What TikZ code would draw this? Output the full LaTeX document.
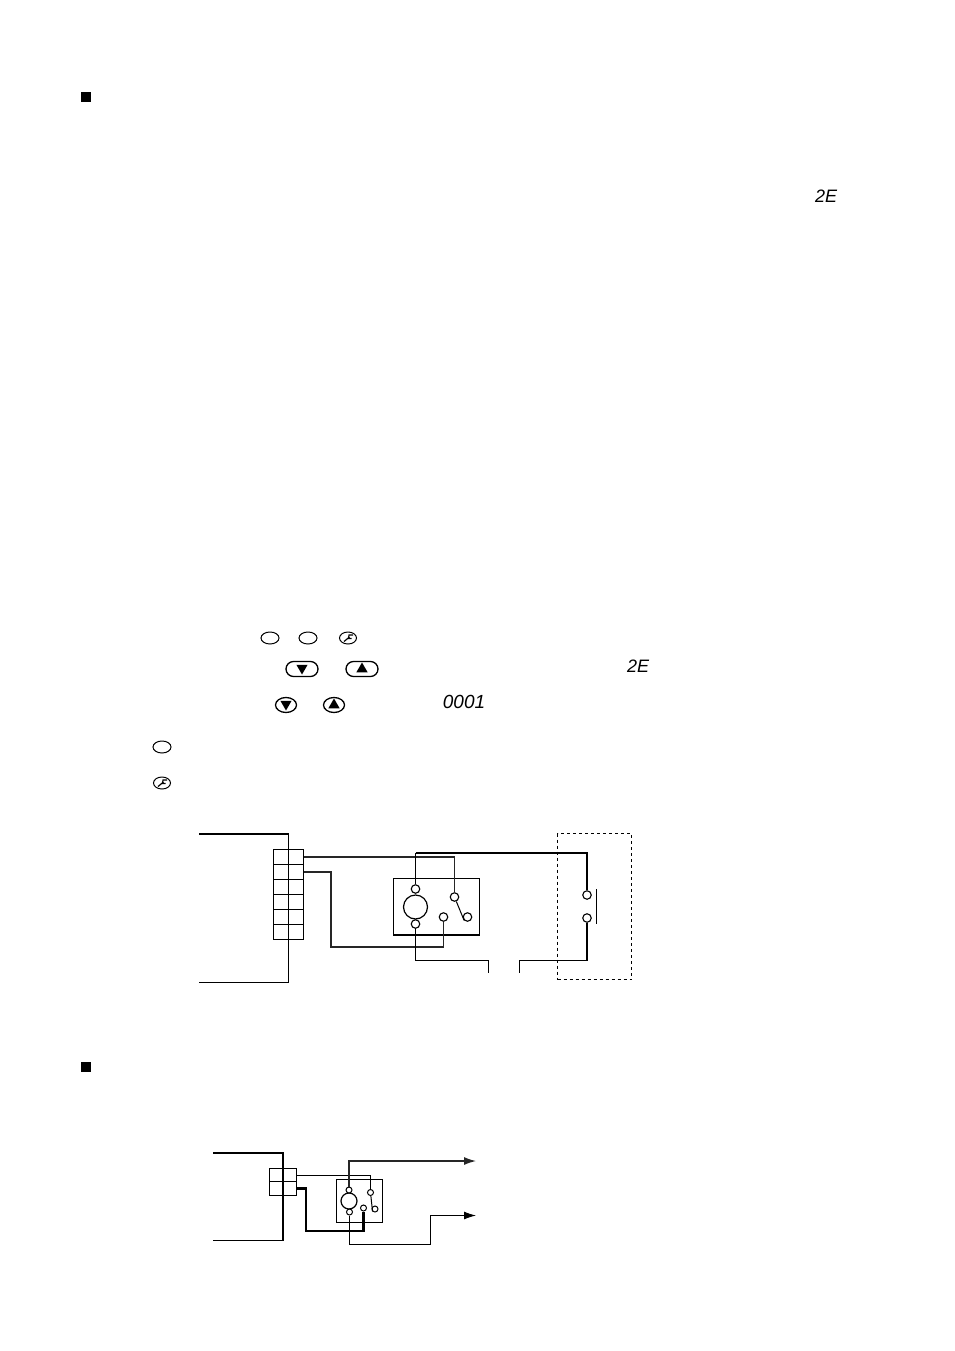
\documentclass[tikz,border=0pt]{standalone}
\usepackage{fontspec}
\newfontfamily\segfont[ItalicFont=Liberation Sans Italic]{Liberation Sans}
\usetikzlibrary{arrows.meta,shapes.geometric,shapes.misc}
\tikzset{
  wire/.style={line width=1pt},
  softwire/.style={line width=1.3pt,black!85},
  heavy/.style={line width=2.2pt},
  contact/.style={circle,draw,fill=white,line width=1.1pt,inner sep=0pt,minimum size=8.5pt},
  smallcontact/.style={circle,draw,fill=white,line width=1pt,inner sep=0pt,minimum size=6pt},
  cell/.style={rectangle,draw,line width=1pt,inner sep=0pt},
  marker/.style={rectangle,fill=black,inner sep=0pt,minimum size=10.5pt},
  oval/.style={ellipse,draw,line width=1pt,inner sep=0pt,minimum width=18pt,minimum height=12pt},
  keybig/.style={rounded rectangle,draw,line width=1.3pt,inner sep=0pt,minimum width=32pt,minimum height=15pt},
  keysmall/.style={ellipse,draw,line width=1.3pt,inner sep=0pt,minimum width=21pt,minimum height=15pt},
  triup/.style={regular polygon,regular polygon sides=3,fill=black,inner sep=0pt,minimum size=13pt},
  tridown/.style={triup,shape border rotate=180},
  seg/.style={inner sep=0pt,font=\segfont\itshape\fontsize{19}{19}\selectfont},
  segcode/.style={inner sep=0pt,font=\segfont\itshape\fontsize{18}{18}\selectfont}
}
\newcommand{\wrenchmark}[1]{%
  \draw[line width=1.2pt] ([shift={(-4,3.5)}]#1.center) -- ([shift={(1.5,-1)}]#1.center);
  \draw[line width=1.1pt] ([shift={(5,-3)}]#1.center) -- ([shift={(1,-3)}]#1.center) -- ([shift={(0.5,0.5)}]#1.center) -- ([shift={(3.5,0.5)}]#1.center);
}
\begin{document}
\begin{tikzpicture}[x=1pt,y=-1pt]
  \useasboundingbox (0,0) rectangle (954,1351);
  \fill[white] (0,0) rectangle (954,1351);

  \node[marker] (mark1) at (86,97) {};
  \node[marker] (mark2) at (86,1067) {};
  \node[segcode] (code1) at (826,196) {2E};
  \node[segcode] (code2) at (638,666) {2E};
  \node[seg] (value) at (464,702) {0001};

  % keys
  \node[oval] (key1) at (270,638) {};
  \node[oval] (key2) at (308,638) {};
  \node[oval] (key3) at (162,747) {};
  \node[oval,minimum width=17pt] (tool1) at (348,638) {};
  \node[oval,minimum width=17pt] (tool2) at (162,783) {};
  \wrenchmark{tool1}
  \wrenchmark{tool2}
  \node[keybig] (down1) at (302,669) {};
  \node[keybig] (up1) at (362,669) {};
  \node[keysmall] (down2) at (286,705) {};
  \node[keysmall] (up2) at (334,705) {};
  \node[tridown] at (302,668) {};
  \node[triup] at (362,669) {};
  \node[tridown] at (286,704) {};
  \node[triup] at (334,705) {};

  % upper circuit
  \coordinate (feed1) at (199,834);
  \coordinate (feed2) at (199,982.5);
  \coordinate (bus1) at (288.5,834);
  \coordinate (bus2) at (288.5,982.5);
  \foreach \r in {1,...,6}
  {
    \node[cell,minimum width=15pt,minimum height=15pt] (a\r) at (281,842+15*\r) {};
    \node[cell,minimum width=15pt,minimum height=15pt] (b\r) at (296,842+15*\r) {};
  }
  \node[cell,line width=1.2pt,minimum width=86pt,minimum height=56.5pt] (relay) at (436.5,906.75) {};
  \node[circle,draw,line width=1.2pt,inner sep=0pt,minimum size=24pt] (coil) at (415.5,907) {};
  \node[contact] (c1) at (415.5,889) {};
  \node[contact] (c2) at (415.5,924) {};
  \node[contact] (c3) at (454.5,897) {};
  \node[contact] (c4) at (467.5,917) {};
  \node[contact] (c5) at (443.5,917) {};
  \node[contact] (s1) at (587,895) {};
  \node[contact] (s2) at (587,918) {};
  \coordinate (bar1) at (596.5,889);
  \coordinate (bar2) at (596.5,924);
  \coordinate (end1) at (488.5,973);
  \coordinate (end2) at (519.5,973);
  \coordinate (m1) at (331,947);
  \coordinate (m4) at (415.5,960.5);
  \coordinate (m5) at (587,960.5);
  \coordinate (m6) at (415.5,853);
  \node[draw,dashed,line width=.9pt,minimum width=74pt,minimum height=146pt,inner sep=0pt] (cover) at (594.5,906.5) {};

  \draw[heavy] (feed1) -- (bus1);
  \draw[wire] (bus1) -- (bus2) -- (feed2);
  \draw[softwire,line width=1.6pt] (b1.east) -| (c3.north);
  \draw[softwire] (b2.east) -| (m1) -| (c5.south);
  \draw[wire] (c3) -- (c4.south west);
  \draw[wire] (c2.south) -- (m4) -| (end1);
  \draw[wire] (bar1) -- (bar2);
  \draw[wire] (c1.north) -- (m6);
  \draw[heavy] (m6) -| (s1.north);
  \draw[heavy] (s2.south) -- (m5);
  \draw[wire] (m5) -| (end2);

  % lower circuit
  \coordinate (feed3) at (213,1153);
  \coordinate (feed4) at (213,1240.5);
  \coordinate (bus3) at (283,1153);
  \coordinate (bus4) at (283,1240.5);
  \foreach \r in {1,2}
  {
    \node[cell,minimum width=13.5pt,minimum height=13.25pt] (e\r) at (276.25,1168.5+13.25*\r-6.6) {};
    \node[cell,minimum width=13.5pt,minimum height=13.25pt] (f\r) at (289.75,1168.5+13.25*\r-6.6) {};
  }
  \node[cell,minimum width=46pt,minimum height=43pt] (relay2) at (359.5,1201) {};
  \node[circle,draw,line width=1.2pt,inner sep=0pt,minimum size=16pt] (coil2) at (349,1201) {};
  \node[smallcontact] (d1) at (349,1190) {};
  \node[smallcontact] (d2) at (349.5,1212) {};
  \node[smallcontact] (d3) at (370.5,1192.5) {};
  \node[smallcontact] (d4) at (375,1209) {};
  \node[smallcontact] (d5) at (363.5,1208) {};
  \coordinate (out1) at (476,1161);
  \coordinate (out2) at (476,1215.5);
  \coordinate (m2) at (306,1231);
  \coordinate (m3) at (430.5,1244.5);

  \draw[heavy] (feed3) -- (bus3) -- (bus4);
  \draw[wire] (bus4) -- (feed4);
  \draw[wire] (f1.east) -| (d3.north);
  \draw[heavy] (f2.east) -| (m2) -| (d5.south);
  \draw[wire] (d3) -- (d4.south west);
  \draw[softwire,-{Latex[length=12pt,width=8pt]}] (d1.north) |- (out1);
  \draw[wire,-{Latex[length=12pt,width=8pt]}] (d2.south) |- (m3) |- (out2);
\end{tikzpicture}
\end{document}
